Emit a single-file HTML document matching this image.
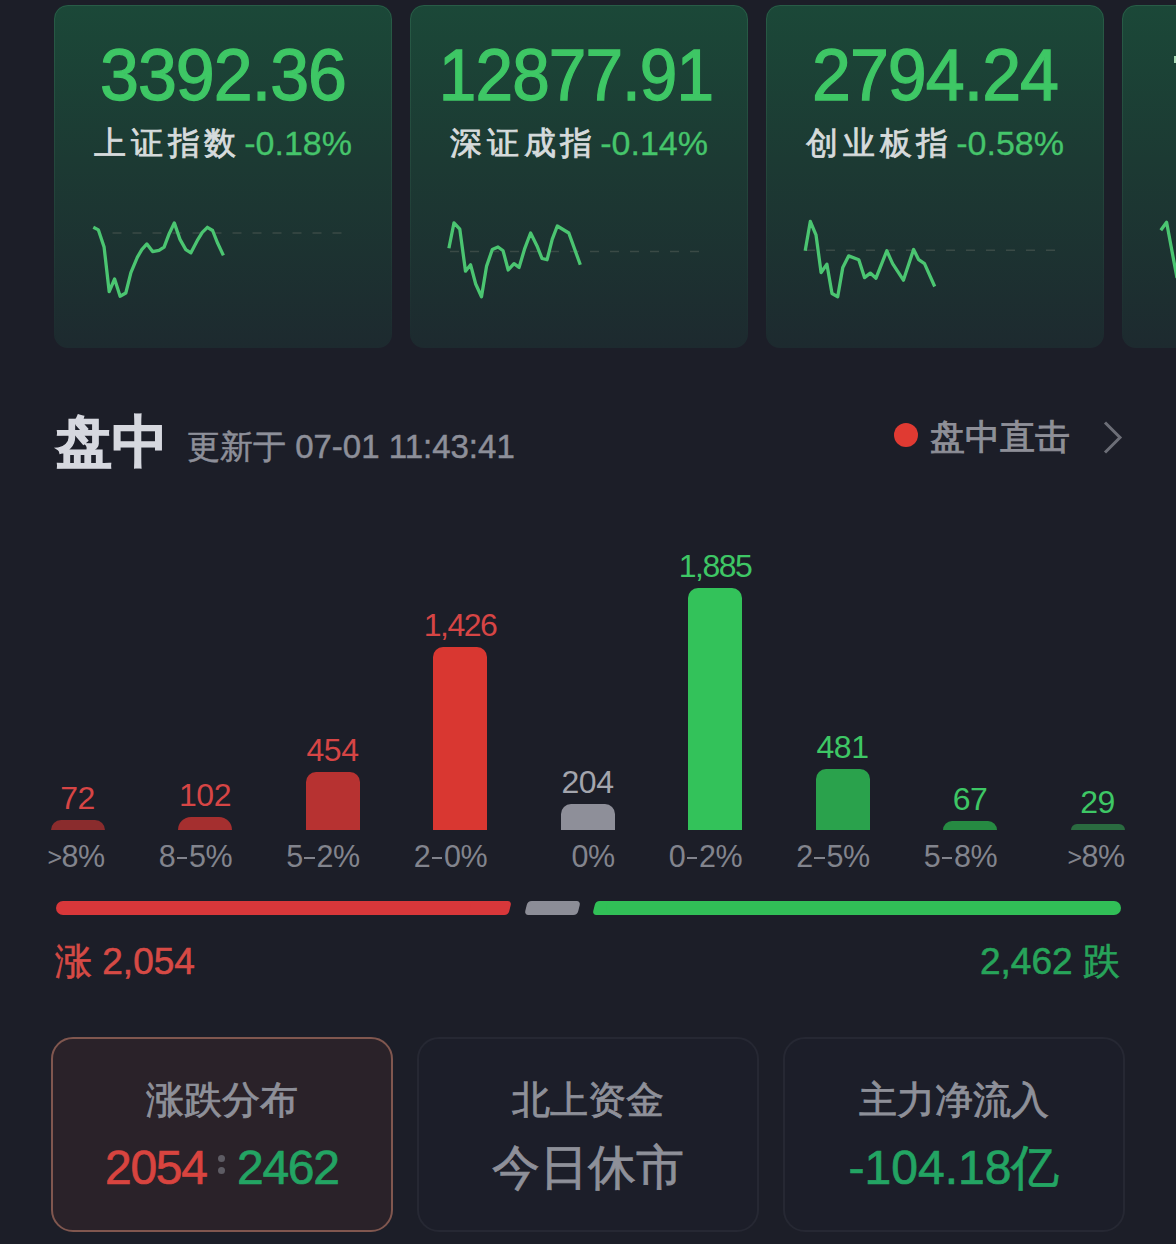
<!DOCTYPE html>
<html><head><meta charset="utf-8">
<style>
*{margin:0;padding:0;box-sizing:border-box}
html,body{width:1176px;height:1244px;overflow:hidden;background:#1c1e28;font-family:"Liberation Sans",sans-serif}
.abs{position:absolute}
.card{position:absolute;top:5px;width:338px;height:343px;border-radius:14px;background:linear-gradient(180deg,#1b4838 0%,#1c3a33 45%,#1d2a2f 100%);overflow:hidden}
.big{position:absolute;left:0;width:338px;text-align:center;top:30px;font-size:73px;line-height:80px;color:#3ec765;letter-spacing:-1px;-webkit-text-stroke:1.3px #3ec765;transform:scaleX(0.958)}
.sub{position:absolute;left:0;width:338px;text-align:center;top:116px;font-size:36px;line-height:44px;color:#d6dbdc;white-space:nowrap;font-weight:500}
.sub b{font-weight:normal;color:#45c56b;font-size:34px;-webkit-text-stroke:0.3px #45c56b}
.sub i{font-style:normal;-webkit-text-stroke:0.8px #d6dbdc;font-size:32px;letter-spacing:4.8px;position:relative;top:-1px}
.sub b{margin-left:3px}
svg{position:absolute;left:0;top:0}
.card:before{content:"";position:absolute;left:0;top:0;right:0;bottom:0;border-radius:inherit;border:1px solid rgba(110,200,150,0.16);-webkit-mask-image:linear-gradient(180deg,#000 0%,rgba(0,0,0,.5) 60%,transparent 100%)}
.t{position:absolute;white-space:nowrap;line-height:1}
.bar{position:absolute;width:54px;border-radius:10px 10px 0 0}
.val{position:absolute;width:120px;text-align:center;font-size:32px;line-height:32px}
.lab{position:absolute;width:120px;text-align:right;font-size:30.5px;line-height:30px;color:#82848d;top:841px;letter-spacing:-0.6px}
.lab s{display:inline-block;width:10.5px;height:2.2px;background:currentColor;vertical-align:8px;margin:0 2px 0 1.5px}
.lab u{text-decoration:none;font-size:25px;vertical-align:1px}
.bc{position:absolute;top:1037px;width:342px;height:195px;border-radius:22px;border:2px solid #262833;background:#1c1e29;text-align:center}
.bc .h{position:absolute;left:0;right:0;top:39px;font-size:38px;line-height:44px;color:#8e9099;-webkit-text-stroke:0.8px #8e9099}
.bc .v{position:absolute;left:0;right:0;top:101px;font-size:48px;line-height:56px}
</style></head><body>

<!-- top index cards -->
<div class="card" style="left:54px">
  <div class="big">3392.36</div>
  <div class="sub"><i>上证指数</i><b>-0.18%</b></div>
  <svg width="336" height="342" viewBox="54 5 336 342">
    <line x1="112.5" y1="233" x2="345" y2="233" stroke="#3a4a46" stroke-width="1.5" stroke-dasharray="9 11"/>
    <polyline fill="none" stroke="#4bc571" stroke-width="3.3" stroke-linejoin="round" points="93.3,227.3 98.4,229.9 104.1,247.1 109.2,291.7 114.6,279 120.1,296.2 125.8,293 130.9,272.6 137.3,257.3 141.8,249.6 146.9,243.9 152.6,251.6 159,250.3 164.1,247.1 169.2,233.7 174.3,222.9 180,239.4 185.8,249.6 190.9,252.8 197.2,240.7 202.3,232.4 207.4,227.3 212.6,230.5 217.7,243.3 223.4,255.4"/>
  </svg>
</div>
<div class="card" style="left:410px">
  <div class="big" style="transform:scaleX(0.925);left:-3px">12877.91</div>
  <div class="sub"><i>深证成指</i><b>-0.14%</b></div>
  <svg width="336" height="342" viewBox="410 5 336 342">
    <line x1="450" y1="251.5" x2="702" y2="251.5" stroke="#3a4a46" stroke-width="1.5" stroke-dasharray="9 11"/>
    <polyline fill="none" stroke="#4bc571" stroke-width="3.3" stroke-linejoin="round" points="448.9,248.3 454,222.8 459.8,229.1 465.5,271.2 470.6,264.8 475.7,284 481.5,296.7 486.6,266.1 492.3,249.5 498,247 503.1,250.8 508.2,270 514,263.6 519.1,267.4 524.8,248.3 530.6,233 536.9,245.7 542,258.5 547.1,259.7 552.2,239.3 557.3,226 568.8,233 580.3,264.8"/>
  </svg>
</div>
<div class="card" style="left:766px">
  <div class="big">2794.24</div>
  <div class="sub"><i>创业板指</i><b>-0.58%</b></div>
  <svg width="336" height="342" viewBox="766 5 336 342">
    <line x1="806" y1="250.2" x2="1058" y2="250.2" stroke="#3a4a46" stroke-width="1.5" stroke-dasharray="9 11"/>
    <polyline fill="none" stroke="#4bc571" stroke-width="3.3" stroke-linejoin="round" points="805.2,250.8 810.3,221.5 816,234.9 821.1,272.5 826.9,264.2 832,293.5 837.7,296.7 842.8,267.4 848.6,255.9 858.8,259.7 864.5,277.6 870.3,273.1 876,278.2 886.8,250.8 892.6,263.6 903.4,280.2 913.6,249.5 918.7,259.7 924.5,263.6 934.7,286.5"/>
  </svg>
</div>
<div class="card" style="left:1122px">
  <div class="abs" style="left:52px;top:51px;width:3px;height:7px;background:#a8d8b4"></div>
  <svg width="336" height="342" viewBox="1122 5 336 342">
    <polyline fill="none" stroke="#4bc571" stroke-width="3.3" stroke-linejoin="round" points="1160.8,230.2 1166.6,222.3 1177,278"/>
  </svg>
</div>

<!-- header -->
<div class="t" style="left:56px;top:414px;font-size:56px;font-weight:bold;color:#d6d8df;-webkit-text-stroke:1.2px #d6d8df">盘中</div>
<div class="t" style="left:187px;top:430px;font-size:33px;color:#8d8f99;-webkit-text-stroke:0.5px #8d8f99">更新于 07-01 11:43:41</div>
<div class="abs" style="left:894px;top:423px;width:24px;height:24px;border-radius:50%;background:#e03a32"></div>
<div class="t" style="left:930px;top:419px;font-size:35px;color:#8e8f98;-webkit-text-stroke:0.9px #8e8f98">盘中直击</div>
<svg width="1176" height="1244" style="pointer-events:none">
  <polyline points="1105,422.5 1120,437.5 1105,452.5" fill="none" stroke="#6c6e77" stroke-width="3"/>
</svg>

<!-- bars -->
<div class="bar" style="left:50.5px;top:820px;height:10px;background:#8a2c2d;border-radius:14px 14px 0 0;"></div>
<div class="bar" style="left:178px;top:817px;height:13px;background:#a52f2f;border-radius:14px 14px 0 0;"></div>
<div class="bar" style="left:305.5px;top:772px;height:58px;background:#b73231;"></div>
<div class="bar" style="left:433px;top:647px;height:183px;background:#d93731;"></div>
<div class="bar" style="left:560.5px;top:804px;height:26px;background:#8e8f99;"></div>
<div class="bar" style="left:688px;top:588px;height:242px;background:#33c25a;"></div>
<div class="bar" style="left:815.5px;top:769px;height:61px;background:#2aa24c;"></div>
<div class="bar" style="left:943px;top:821px;height:9px;background:#268a42;border-radius:14px 14px 0 0;"></div>
<div class="bar" style="left:1070.5px;top:824px;height:6px;background:#2a6b40;border-radius:14px 14px 0 0;"></div>
<div class="val" style="left:17.5px;top:782px;color:#d64545;letter-spacing:-0.5px">72</div>
<div class="val" style="left:145px;top:779px;color:#d64545;letter-spacing:-0.5px">102</div>
<div class="val" style="left:272.5px;top:734px;color:#d64545;letter-spacing:-0.5px">454</div>
<div class="val" style="left:400px;top:609px;color:#d64545;letter-spacing:-1.5px">1,426</div>
<div class="val" style="left:527.5px;top:766px;color:#a3a5ad;letter-spacing:-0.5px">204</div>
<div class="val" style="left:655px;top:550px;color:#3ec765;letter-spacing:-1.5px">1,885</div>
<div class="val" style="left:782.5px;top:731px;color:#3ec765;letter-spacing:-0.5px">481</div>
<div class="val" style="left:910px;top:783px;color:#3ec765;letter-spacing:-0.5px">67</div>
<div class="val" style="left:1037.5px;top:786px;color:#3ec765;letter-spacing:-0.5px">29</div>
<div class="lab" style="left:-15.5px"><u>&gt;</u>8%</div>
<div class="lab" style="left:112px">8<s></s>5%</div>
<div class="lab" style="left:239.5px">5<s></s>2%</div>
<div class="lab" style="left:367px">2<s></s>0%</div>
<div class="lab" style="left:494.5px">0%</div>
<div class="lab" style="left:622px">0<s></s>2%</div>
<div class="lab" style="left:749.5px">2<s></s>5%</div>
<div class="lab" style="left:877px">5<s></s>8%</div>
<div class="lab" style="left:1004.5px"><u>&gt;</u>8%</div>

<!-- ratio bar -->
<div class="abs" style="left:56px;top:901px;width:446px;height:14px;border-radius:7px;background:#d8373a"></div>
<div class="abs" style="left:470px;top:901px;width:39.8px;height:14px;border-radius:4px;background:#d8373a;transform:skewX(-14deg)"></div>
<div class="abs" style="left:525.5px;top:901px;width:53.2px;height:14px;border-radius:4px;background:#8c8d97;transform:skewX(-14deg)"></div>
<div class="abs" style="left:593.9px;top:901px;width:40px;height:14px;border-radius:4px;background:#31bf57;transform:skewX(-14deg)"></div>
<div class="abs" style="left:606px;top:901px;width:514.5px;height:14px;border-radius:7px;background:#31bf57"></div>

<div class="t" style="left:55px;top:943px;font-size:37px;color:#d64a45;-webkit-text-stroke:0.6px #d64a45">涨 2,054</div>
<div class="t" style="left:980px;top:943px;font-size:37px;color:#27a45a;-webkit-text-stroke:0.6px #27a45a">2,462 跌</div>

<!-- bottom cards -->
<div class="bc" style="left:51px;border-color:#80574f;background:#2a2229">
  <div class="h">涨跌分布</div>
  <div class="v" style="-webkit-text-stroke:0.7px currentColor"><span style="position:absolute;left:52px;color:#d8443f;letter-spacing:-1.3px">2054</span><span style="position:absolute;left:184px;color:#23a463;letter-spacing:-1.3px">2462</span></div>
  <div class="abs" style="left:165px;top:116px;width:7px;height:7px;border-radius:50%;background:#5e5c64"></div>
  <div class="abs" style="left:165px;top:128px;width:7px;height:7px;border-radius:50%;background:#5e5c64"></div>
</div>
<div class="bc" style="left:417px">
  <div class="h">北上资金</div>
  <div class="v" style="color:#8e9099;-webkit-text-stroke:0.8px #8e9099">今日休市</div>
</div>
<div class="bc" style="left:783px">
  <div class="h">主力净流入</div>
  <div class="v" style="color:#23a463;-webkit-text-stroke:0.7px currentColor">-104.18亿</div>
</div>

</body></html>
